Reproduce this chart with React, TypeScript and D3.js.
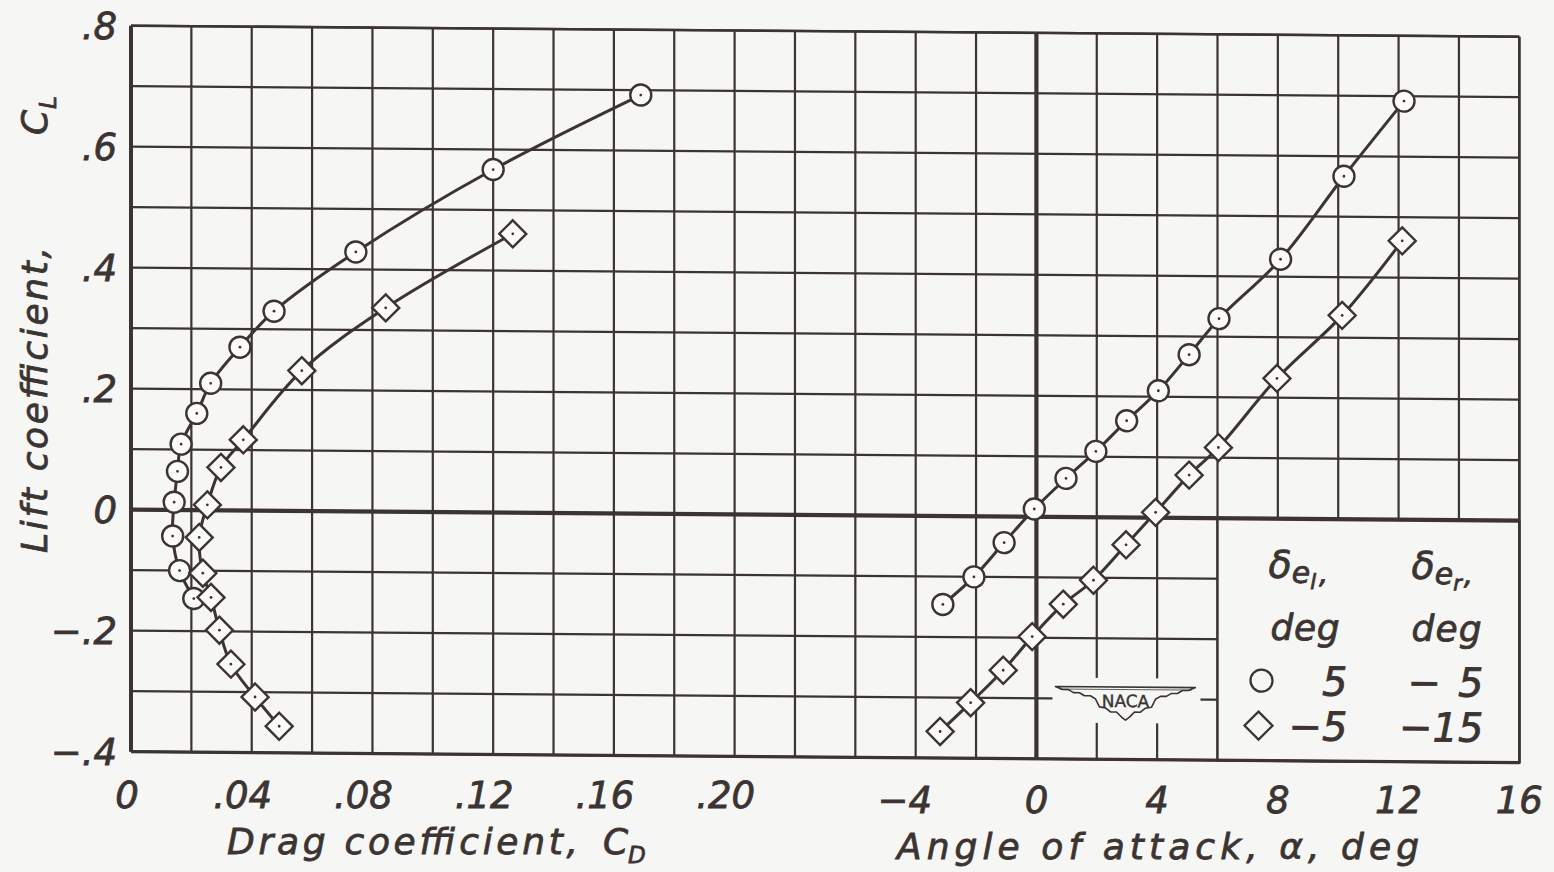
import React from "react";
import * as d3 from "d3";

// tick labels
const cdTicks = [0, 0.04, 0.08, 0.12, 0.16, 0.2];
const cdTickLabels = ["0", ".04", ".08", ".12", ".16", ".20"];
const alphaTicks = [-4, 0, 4, 8, 12, 16];
const alphaTickLabels = ["\u22124", "0", "4", "8", "12", "16"];
const clTicks = [0.8, 0.6, 0.4, 0.2, 0, -0.2, -0.4];
const clTickLabels = [".8", ".6", ".4", ".2", "0", "\u2212.2", "\u2212.4"];

// circles: delta_el = 5, delta_er = -5
const circAlpha = [-3.1, -2.07, -1.07, -0.07, 0.98, 1.97, 2.99, 4.04, 5.06, 6.05, 8.09, 10.19, 12.18];
const circCL = [-0.146, -0.1, -0.043, 0.013, 0.064, 0.109, 0.16, 0.21, 0.27, 0.33, 0.429, 0.567, 0.692];
const circCD = [0.0208, 0.0161, 0.0138, 0.0143, 0.0154, 0.0166, 0.0218, 0.0264, 0.0361, 0.0474, 0.0745, 0.12, 0.1689];

// diamonds: delta_el = -5, delta_er = -15
const diamAlpha = [-3.19, -2.18, -1.1, -0.14, 0.89, 1.89, 2.97, 3.95, 5.06, 6.03, 7.97, 10.13, 12.12];
const diamCL = [-0.356, -0.308, -0.254, -0.198, -0.144, -0.104, -0.045, 0.009, 0.071, 0.117, 0.232, 0.337, 0.461];
const diamCD = [0.0491, 0.0411, 0.0331, 0.0293, 0.0265, 0.0238, 0.0226, 0.0253, 0.0298, 0.0372, 0.0566, 0.0844, 0.1265];

const W = 1554;
const H = 872;
const X0 = 131;
const X1 = 1519.3;
const Y0 = 25.7;
const Y1 = 751.7;
const SKEW = 0.453; // the scan is slightly tilted
const INK = "#3b3432";
const BG = "#f6f6f4";
const FONT = "'DejaVu Sans', 'Liberation Sans', sans-serif";

function Marker({ shape, cx, cy }) {
  return (
    <g transform={`translate(${cx},${cy})`}>
      {shape === "circle" ? (
        <circle r={10.5} fill="#fbfbfa" stroke={INK} strokeWidth={2.4} />
      ) : (
        <path d="M0,-13.5L13.5,0L0,13.5L-13.5,0Z" fill="#fbfbfa" stroke={INK} strokeWidth={2.4} />
      )}
      <circle r={1.4} fill={INK} />
    </g>
  );
}

export default function App() {
  const xCD = d3.scaleLinear().domain([0, 0.46]).range([X0, X1]);
  const xAlpha = d3.scaleLinear().domain([-30, 16]).range([X0, X1]);
  const y = d3.scaleLinear().domain([-0.4, 0.8]).range([Y1, Y0]);

  const series = [
    { shape: "circle", alpha: circAlpha, cl: circCL, cd: circCD },
    { shape: "diamond", alpha: diamAlpha, cl: diamCL, cd: diamCD },
  ];

  const curve = d3.curveCatmullRom.alpha(0.5);
  const polarLine = (s) =>
    d3.line().x((i) => xCD(s.cd[i])).y((i) => y(s.cl[i])).curve(curve)(d3.range(s.cl.length));
  const liftLine = (s) =>
    d3.line().x((i) => xAlpha(s.alpha[i])).y((i) => y(s.cl[i])).curve(curve)(d3.range(s.cl.length));

  const vLines = d3.range(0, 24).map((i) => xCD(i * 0.02));
  const hLines = d3.range(0, 13).map((i) => y(-0.4 + i * 0.1));

  // legend box and logo anchors
  const lx = xAlpha(6);
  const ly = y(0);
  const logoX = xAlpha(2.95);
  const logoY = y(-0.3);

  // wings of the NACA badge, right half mirrored
  const half = [
    [70, -12], [63, -9], [57, -9], [52, -6], [46, -6], [41, -3], [35, -3], [30, 0],
    [26, 8], [20, 9], [15, 13], [9, 13], [4, 18], [0, 21],
  ];
  const wing =
    "M-70,-12L70,-12" +
    half.slice(1).map(([x, yy]) => `L${x},${yy}`).join("") +
    half.slice(0, -1).reverse().map(([x, yy]) => `L${-x},${yy}`).join("") +
    "Z";

  const sk = `translate(${X0},${Y0}) skewY(${SKEW}) translate(${-X0},${-Y0})`;

  return (
    <svg
      width={W}
      height={H}
      style={{ position: "absolute", left: 0, top: 0 }}
      fontFamily={FONT}
      fill={INK}
    >
      <rect width={W} height={H} fill={BG} />
      <g transform={sk}>
        {/* grid */}
        <g stroke={INK} strokeWidth={2.2}>
          {vLines.map((x, i) => (
            <line key={"v" + i} x1={x} x2={x} y1={Y0} y2={Y1} />
          ))}
          {hLines.map((yy, i) => (
            <line key={"h" + i} x1={X0} x2={X1} y1={yy} y2={yy} />
          ))}
        </g>

        {/* legend box */}
        <rect x={lx} y={ly} width={X1 - lx} height={Y1 - ly} fill={BG} stroke={INK} strokeWidth={2.4} />

        {/* NACA logo */}
        <g transform={`translate(${logoX},${logoY})`}>
          <rect x={-73} y={-21} width={148} height={45} fill={BG} />
          <path d={wing} fill="none" stroke={INK} strokeWidth={1.6} strokeLinejoin="round" />
          <line x1={-66} x2={66} y1={-9.5} y2={-9.5} stroke={INK} strokeWidth={0.8} />
          <text
            x={0}
            y={8}
            textAnchor="middle"
            fontSize={17}
            stroke={INK}
            strokeWidth={0.4}
            fontFamily="'DejaVu Sans', sans-serif"
          >
            NACA
          </text>
        </g>

        {/* zero lines and border */}
        <g stroke={INK} fill="none">
          <line x1={X0} x2={X1} y1={y(0)} y2={y(0)} strokeWidth={4.2} />
          <line x1={xAlpha(0)} x2={xAlpha(0)} y1={Y0} y2={Y1} strokeWidth={4.2} />
          <line x1={X0} x2={X0} y1={Y0} y2={Y1} strokeWidth={4} />
          <line x1={X0} x2={X1} y1={Y1} y2={Y1} strokeWidth={3.2} />
          <line x1={X0} x2={X1} y1={Y0} y2={Y0} strokeWidth={2.6} />
          <line x1={X1} x2={X1} y1={Y0} y2={Y1} strokeWidth={2.6} />
        </g>

        {/* curves */}
        <g fill="none" stroke={INK} strokeWidth={3}>
          {series.map((s) => (
            <path key={"p" + s.shape} d={polarLine(s)} />
          ))}
          {series.map((s) => (
            <path key={"l" + s.shape} d={liftLine(s)} />
          ))}
        </g>

        {/* markers */}
        {series.map((s) =>
          s.cl.map((c, i) => (
            <React.Fragment key={s.shape + i}>
              <Marker shape={s.shape} cx={xCD(s.cd[i])} cy={y(c)} />
              <Marker shape={s.shape} cx={xAlpha(s.alpha[i])} cy={y(c)} />
            </React.Fragment>
          ))
        )}

        {/* legend */}
        <g fontStyle="italic" stroke={INK} strokeWidth={0.8}>
          <text x={lx + 51} y={ly + 59} fontSize={38}>
            δ<tspan fontSize={30} dy={5}>e</tspan>
            <tspan fontSize={21} dy={6}>l</tspan>
            <tspan fontSize={29} dy={-6} dx={3}>,</tspan>
          </text>
          <text x={lx + 194} y={ly + 59} fontSize={38}>
            δ<tspan fontSize={30} dy={5}>e</tspan>
            <tspan fontSize={21} dy={6}>r</tspan>
            <tspan fontSize={29} dy={-6} dx={2}>,</tspan>
          </text>
          <text x={lx + 53} y={ly + 121} fontSize={36} textLength={69} lengthAdjust="spacing">
            deg
          </text>
          <text x={lx + 194} y={ly + 121} fontSize={36} textLength={70} lengthAdjust="spacing">
            deg
          </text>
          <g fontSize={40}>
            <text x={lx + 130} y={ly + 162} dy="0.36em" textAnchor="end">5</text>
            <text x={lx + 190} y={ly + 162} dy="0.36em">{"\u2212"}</text>
            <text x={lx + 266} y={ly + 162} dy="0.36em" textAnchor="end">5</text>
            <text x={lx + 130} y={ly + 207} dy="0.36em" textAnchor="end">{"\u22125"}</text>
            <text x={lx + 266} y={ly + 207} dy="0.36em" textAnchor="end">{"\u221215"}</text>
          </g>
        </g>
        <circle cx={lx + 44} cy={ly + 162} r={11} fill="none" stroke={INK} strokeWidth={2.3} />
        <path
          d={`M${lx + 41},${ly + 193}l14,14l-14,14l-14,-14z`}
          fill="none"
          stroke={INK}
          strokeWidth={2.3}
        />
      </g>

      {/* tick labels */}
      <g fontStyle="italic" fontSize={37} stroke={INK} strokeWidth={0.8}>
        {clTicks.map((v, i) => (
          <text key={"cl" + i} x={117} y={y(v)} dy="0.36em" textAnchor="end">
            {clTickLabels[i]}
          </text>
        ))}
        {cdTicks.map((v, i) => (
          <text
            key={"cd" + i}
            x={xCD(v) + (cdTickLabels[i].startsWith(".") ? -9 : -4)}
            y={808}
            textAnchor="middle"
          >
            {cdTickLabels[i]}
          </text>
        ))}
        {alphaTicks.map((v, i) => (
          <text
            key={"a" + i}
            x={xAlpha(v) + (v < 0 ? -11 : 0)}
            y={813}
            textAnchor="middle"
          >
            {alphaTickLabels[i]}
          </text>
        ))}
      </g>

      {/* axis titles */}
      <g fontStyle="italic" fontSize={36} stroke={INK} strokeWidth={0.8}>
        <text x={227} y={854} textLength={351} lengthAdjust="spacing">
          Drag coefficient,
        </text>
        <text x={603} y={854}>C</text>
        <text x={628} y={863} fontSize={23}>D</text>

        <text x={897} y={859} textLength={522} lengthAdjust="spacing">
          Angle of attack, α, deg
        </text>

        <g transform="translate(47,553) rotate(-90)">
          <text x={0} y={0} textLength={306} lengthAdjust="spacing">
            Lift coefficient,
          </text>
          <text x={418} y={0}>C</text>
          <text x={444} y={9} fontSize={23}>L</text>
        </g>
      </g>
    </svg>
  );
}
